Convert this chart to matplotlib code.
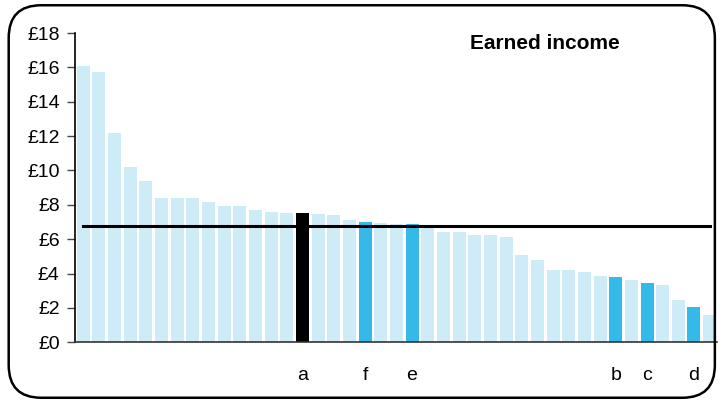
import numpy as np
import matplotlib.pyplot as plt
from matplotlib.patches import FancyBboxPatch

plt.rcParams['font.family'] = ['Liberation Sans', 'DejaVu Sans']

# earned income per person, sorted high to low (pounds)
values = [16.08, 15.71, 12.17, 10.19, 9.38, 8.39, 8.39, 8.39, 8.16, 7.92,
          7.92, 7.69, 7.57, 7.52, 7.52, 7.46, 7.40, 7.11, 6.99, 6.94,
          6.88, 6.88, 6.76, 6.41, 6.41, 6.24, 6.24, 6.12, 5.07, 4.78,
          4.20, 4.20, 4.09, 3.86, 3.80, 3.62, 3.45, 3.33, 2.46, 2.05, 1.58]
marked_idx = [14, 18, 21, 34, 36, 39]
marked_lbl = ['a', 'f', 'e', 'b', 'c', 'd']
average = 6.78
yticks = [0, 2, 4, 6, 8, 10, 12, 14, 16, 18]

light = '#cdecf8'
bright = '#35b9e9'
colors = [light] * len(values)
for i, lab in zip(marked_idx, marked_lbl):
    colors[i] = 'black' if lab == 'a' else bright

fig = plt.figure(figsize=(7.25, 4.03), dpi=100)

# rounded frame around the whole chart
frame = FancyBboxPatch((0.012, 0.013), 0.974, 0.974,
                       boxstyle='round,pad=0,rounding_size=0.045',
                       transform=fig.transFigure, fill=False,
                       edgecolor='black', linewidth=1.8, mutation_aspect=725 / 403)
fig.patches.append(frame)

ax = fig.add_axes([0.1034, 0.1506, 0.8856, 0.7674])
x = np.arange(len(values))
ax.bar(x, values, width=0.83, color=colors, zorder=2)
ax.plot([0, len(values) - 1], [average, average], color='black', linewidth=2.2, zorder=3)

ax.set_xlim(-0.52, len(values) - 0.53)
ax.set_ylim(0, 18)
ax.set_yticks(yticks)
ax.set_yticklabels(['£%d' % t for t in yticks], fontsize=14)
ax.set_xticks(marked_idx)
ax.set_xticklabels(marked_lbl, fontsize=14)
ax.tick_params(axis='x', length=0, pad=18)
ax.tick_params(axis='y', length=6, width=1, color='#444444', pad=5)

for side in ['top', 'right']:
    ax.spines[side].set_visible(False)
ax.spines['left'].set_linewidth(1.2)
ax.spines['bottom'].set_color('#333333')
ax.spines['bottom'].set_linewidth(1.2)

fig.text(0.752, 0.893, 'Earned income', ha='center', va='center',
         fontsize=15, fontweight='bold')

fig.savefig('out.png', dpi=100)
